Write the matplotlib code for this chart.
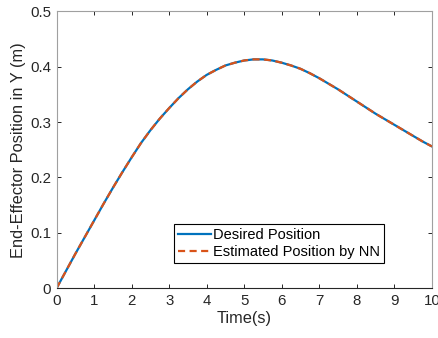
import matplotlib
matplotlib.use('Agg')
import matplotlib.pyplot as plt

plt.rcParams['font.family'] = ['Liberation Sans', 'DejaVu Sans']

# values
time_s = [0, 0.25, 0.5, 0.75, 1, 1.25, 1.5, 1.75, 2, 2.25, 2.5, 2.75, 3, 3.25, 3.5, 3.75,
          4, 4.25, 4.5, 4.75, 5, 5.25, 5.5, 5.75, 6, 6.25, 6.5, 6.75, 7, 7.25, 7.5, 7.75,
          8, 8.25, 8.5, 8.75, 9, 9.25, 9.5, 9.75, 10]
desired_y = [0, 0.031, 0.062, 0.092, 0.122, 0.152, 0.181, 0.209, 0.236, 0.262, 0.285,
             0.306, 0.325, 0.343, 0.359, 0.373, 0.385, 0.394, 0.402, 0.407, 0.411,
             0.413, 0.413, 0.411, 0.407, 0.402, 0.396, 0.388, 0.379, 0.369, 0.359,
             0.348, 0.337, 0.326, 0.315, 0.305, 0.295, 0.285, 0.275, 0.265, 0.256]
estimated_y = list(desired_y)
x_ticks = list(range(0, 11))
y_ticks = [0, 0.1, 0.2, 0.3, 0.4, 0.5]

fig = plt.figure(figsize=(4.38, 3.38), dpi=100)
ax = fig.add_axes([0.129, 0.147, 0.857, 0.82])

ax.plot(time_s, desired_y, color='#0072BD', lw=1.6, label='Desired Position',
        solid_joinstyle='round')
ax.plot(time_s, estimated_y, color='#D95319', lw=1.6, ls=(0, (3.2, 2.0)),
        label='Estimated Position by NN')

ax.set_xlim(0, 10)
ax.set_ylim(0, 0.5)
ax.set_xticks(x_ticks)
ax.set_yticks(y_ticks)
ax.set_yticklabels(['0', '0.1', '0.2', '0.3', '0.4', '0.5'])

dark = '#262626'
for side in ['left', 'top', 'right']:
    ax.spines[side].set_color('#a0a0a0')
ax.spines['bottom'].set_color(dark)
for s in ax.spines.values():
    s.set_linewidth(0.8)
ax.tick_params(direction='in', length=3, width=0.7, top=True, right=True,
               labelsize=10.8, colors=dark, pad=4)

ax.set_xlabel('Time(s)', fontsize=11.8, color=dark, labelpad=2)
ax.set_ylabel('End-Effector Position in Y (m)', fontsize=11.8, color=dark, labelpad=3)

leg = ax.legend(loc='lower left', bbox_to_anchor=(0.313, 0.091), fontsize=10.5,
                frameon=True, fancybox=False, edgecolor='black', framealpha=1,
                handlelength=2.3, handletextpad=0.15, borderpad=0.25,
                labelspacing=0.25, borderaxespad=0)
leg.get_frame().set_linewidth(0.8)

fig.savefig('out.png', dpi=100)
